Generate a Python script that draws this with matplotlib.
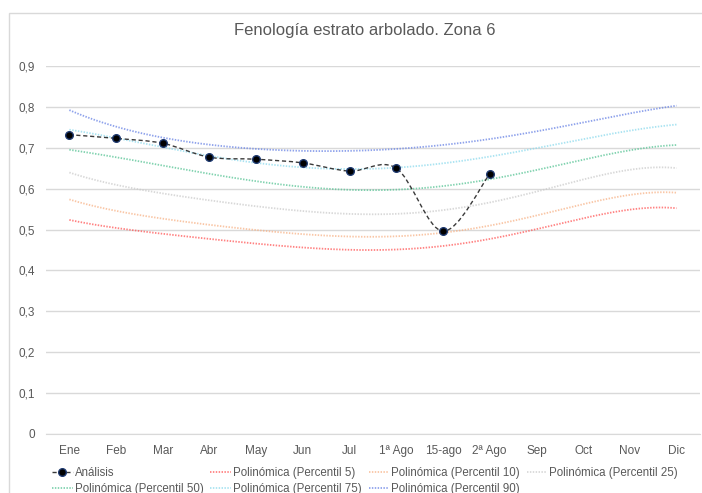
"""Fenologia estrato arbolado, zona 6."""

import matplotlib
matplotlib.use("Agg")
import matplotlib.pyplot as plt
import numpy as np
from matplotlib.path import Path
from matplotlib.patches import PathPatch, Rectangle
from matplotlib.lines import Line2D
from matplotlib.ticker import FuncFormatter

plt.rcParams["font.family"] = ["Liberation Sans", "DejaVu Sans"]

categories = ["Ene", "Feb", "Mar", "Abr", "May", "Jun", "Jul", "1ª Ago",
              "15-ago", "2ª Ago", "Sep", "Oct", "Nov", "Dic"]

# serie observada (solo hasta 2a quincena de agosto)
analisis = [0.732, 0.723, 0.711, 0.677, 0.672, 0.663, 0.643, 0.650, 0.496, 0.636]

p5 = [0.524, 0.503, 0.490, 0.477, 0.467, 0.456, 0.449, 0.450, 0.461, 0.479,
      0.500, 0.526, 0.550, 0.552]
p10 = [0.574, 0.545, 0.527, 0.511, 0.500, 0.490, 0.481, 0.482, 0.493, 0.512,
       0.534, 0.560, 0.586, 0.590]
p25 = [0.640, 0.608, 0.589, 0.572, 0.557, 0.546, 0.537, 0.537, 0.548, 0.569,
       0.592, 0.620, 0.648, 0.650]
p50 = [0.696, 0.675, 0.657, 0.637, 0.620, 0.604, 0.595, 0.597, 0.607, 0.625,
       0.645, 0.670, 0.694, 0.707]
p75 = [0.745, 0.722, 0.702, 0.682, 0.662, 0.652, 0.648, 0.651, 0.661, 0.680,
       0.700, 0.720, 0.742, 0.757]
p90 = [0.792, 0.752, 0.725, 0.707, 0.697, 0.693, 0.693, 0.697, 0.706, 0.722,
       0.740, 0.762, 0.784, 0.803]

trends = [
    ("Polinómica (Percentil 5)", p5, "#FF4D4D"),
    ("Polinómica (Percentil 10)", p10, "#F7AE80"),
    ("Polinómica (Percentil 25)", p25, "#C8C8C8"),
    ("Polinómica (Percentil 50)", p50, "#4CC08E"),
    ("Polinómica (Percentil 75)", p75, "#86D8EC"),
    ("Polinómica (Percentil 90)", p90, "#5F7BE3"),
]

GREY = "#595959"


def smooth_path(x, y):
    # suavizado tipo Excel: bezier cubica con tangentes de Catmull-Rom
    pts = np.column_stack([x, y])
    verts = [pts[0]]
    codes = [Path.MOVETO]
    n = len(pts)
    for i in range(n - 1):
        p0 = pts[max(i - 1, 0)]
        p1 = pts[i]
        p2 = pts[i + 1]
        p3 = pts[min(i + 2, n - 1)]
        verts += [p1 + (p2 - p0) / 6, p2 - (p3 - p1) / 6, p2]
        codes += [Path.CURVE4] * 3
    return Path(verts, codes)


def main():
    fig = plt.figure(figsize=(7.02, 4.93), dpi=100)
    ax = fig.add_axes([0.0655, 0.1197, 0.9315, 0.7464])

    xi = np.arange(len(categories))
    xs = np.linspace(0, len(categories) - 1, 300)
    handles = {}
    for label, vals, color in trends:
        coef = np.polyfit(xi, vals, 5)
        (ln,) = ax.plot(xs, np.polyval(coef, xs), color=color, lw=1.3,
                        ls=(0, (0.8, 0.8)), alpha=0.7, zorder=2)
        handles[label] = ln

    xa = np.arange(len(analisis))
    patch = PathPatch(smooth_path(xa, analisis), fill=False, ec="#3A3A3A",
                      lw=1.0, ls=(0, (3, 2)), zorder=3)
    ax.add_patch(patch)
    ax.plot(xa, analisis, ls="none", marker="o", ms=5.5, mfc="black",
            mec="#1F3A70", mew=1.0, zorder=4)
    handles["Análisis"] = Line2D([], [], color="#3A3A3A", lw=1.0,
                                 ls=(0, (3, 2)), marker="o", ms=5.5,
                                 mfc="black", mec="#1F3A70")

    ax.set_xlim(-0.5, len(categories) - 0.5)
    ax.set_ylim(0, 0.9)
    ax.set_xticks(xi)
    ax.set_xticklabels(categories)
    ax.set_yticks(np.arange(0, 0.91, 0.1))
    ax.yaxis.set_major_formatter(
        FuncFormatter(lambda v, p: "0" if v < 1e-9 else f"{v:.1f}".replace(".", ",")))
    ax.tick_params(length=0, labelsize=8.5, labelcolor=GREY)
    ax.tick_params(axis="x", pad=8)
    ax.tick_params(axis="y", pad=8)
    ax.grid(axis="y", color="#D9D9D9", lw=1.0)
    ax.set_axisbelow(True)
    for s in ["top", "right", "left"]:
        ax.spines[s].set_visible(False)
    ax.spines["bottom"].set_color("#D9D9D9")

    fig.text(0.52, 0.938, "Fenología estrato arbolado. Zona 6", ha="center",
             va="center", fontsize=12, color=GREY)

    # orden para que matplotlib rellene por filas como Excel
    order = ["Análisis", "Polinómica (Percentil 50)",
             "Polinómica (Percentil 5)", "Polinómica (Percentil 75)",
             "Polinómica (Percentil 10)", "Polinómica (Percentil 90)",
             "Polinómica (Percentil 25)"]
    fig.legend([handles[k] for k in order], order, ncol=4,
               loc="upper left", bbox_to_anchor=(0.068, 0.063),
               frameon=False, fontsize=8.3, labelcolor=GREY,
               handlelength=1.75, handletextpad=0.2, columnspacing=0.6,
               labelspacing=0.35, borderaxespad=0)

    fig.add_artist(Rectangle((9 / 702, -0.1), 1.0, 1 - 13 / 493 + 0.1,
                             transform=fig.transFigure, fill=False,
                             ec="#D9D9D9", lw=1.0))

    fig.savefig("out.png", dpi=100)


if __name__ == "__main__":
    main()
